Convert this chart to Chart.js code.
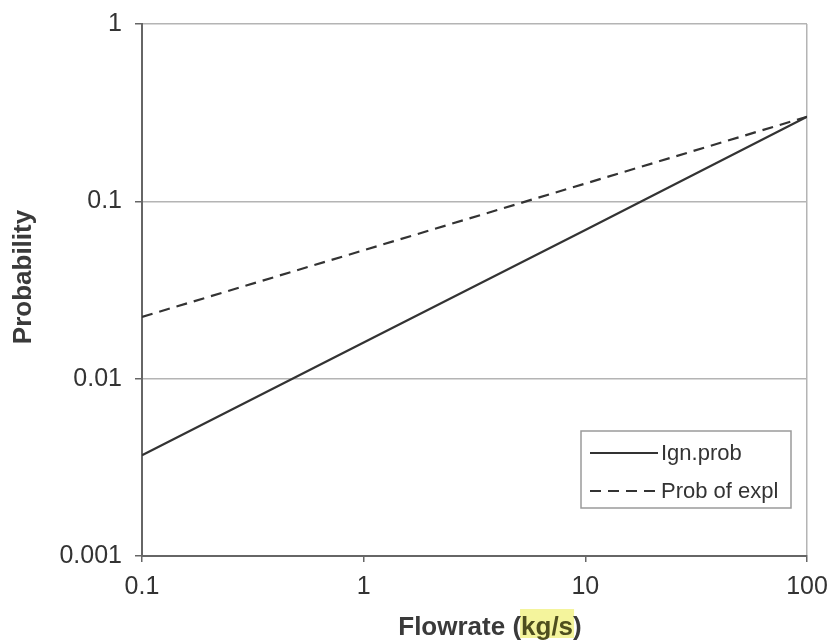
<!DOCTYPE html>
<html>
<head>
<meta charset="utf-8">
<script src="https://cdn.jsdelivr.net/npm/chart.js@4/dist/chart.umd.min.js"></script>
<style>
  html, body { margin: 0; padding: 0; background: #ffffff; }
  #wrap { width: 836px; height: 641px; }
</style>
</head>
<body>
<div id="wrap"><canvas id="c" width="836" height="641"></canvas></div>
<script>
// ---- data ----
const flowrates = [0.1, 1, 10, 100];
const ignProb   = [0.0037, 0.0160, 0.069, 0.30];
const explProb  = [0.0223, 0.0530, 0.126, 0.30];
const seriesNames = ['Ign.prob', 'Prob of expl'];
const xTickValues = [0.1, 1, 10, 100];
const yTickValues = [0.001, 0.01, 0.1, 1];
const xTitleParts = ['Flowrate (', 'kg/s', ')'];
const yTitle = 'Probability';

const FONT = '"Liberation Sans", Arial, Helvetica, sans-serif';

function pts(xs, ys) { return xs.map((x, i) => ({ x: x, y: ys[i] })); }

const titlesAndLegend = {
  id: 'titlesAndLegend',
  afterDraw(chart) {
    const ctx = chart.ctx;
    ctx.save();
    // legend box
    const lx = 581, ly = 431, lw = 210, lh = 77;
    ctx.fillStyle = '#ffffff';
    ctx.fillRect(lx, ly, lw, lh);
    ctx.strokeStyle = '#9a9a9a';
    ctx.lineWidth = 1.5;
    ctx.strokeRect(lx, ly, lw, lh);
    const rows = [453, 491];
    chart.data.datasets.forEach((ds, i) => {
      ctx.beginPath();
      ctx.setLineDash(ds.borderDash || []);
      ctx.strokeStyle = ds.borderColor;
      ctx.lineWidth = 2;
      ctx.moveTo(590, rows[i]);
      ctx.lineTo(658, rows[i]);
      ctx.stroke();
      ctx.setLineDash([]);
      ctx.fillStyle = '#333333';
      ctx.font = '22px ' + FONT;
      ctx.textAlign = 'left';
      ctx.textBaseline = 'middle';
      ctx.fillText(ds.label, 661, rows[i] + 1);
    });

    // x title with highlighted unit
    ctx.font = 'bold 26px ' + FONT;
    ctx.textBaseline = 'alphabetic';
    ctx.textAlign = 'left';
    const w0 = ctx.measureText(xTitleParts[0]).width;
    const w1 = ctx.measureText(xTitleParts[1]).width;
    const w2 = ctx.measureText(xTitleParts[2]).width;
    const total = w0 + w1 + w2;
    const cx = 490, base = 635;
    let x = cx - total / 2;
    ctx.fillStyle = '#f4f49c';
    ctx.fillRect(x + w0 - 1, 609, w1 + 2, 29);
    ctx.fillStyle = '#3a3a3a';
    ctx.fillText(xTitleParts[0], x, base);
    ctx.fillStyle = '#4e4e1e';
    ctx.fillText(xTitleParts[1], x + w0, base);
    ctx.fillStyle = '#3a3a3a';
    ctx.fillText(xTitleParts[2], x + w0 + w1, base);

    // y title
    ctx.translate(24, 277);
    ctx.rotate(-Math.PI / 2);
    ctx.textAlign = 'center';
    ctx.textBaseline = 'middle';
    ctx.fillStyle = '#3a3a3a';
    ctx.fillText(yTitle, 0, 0);
    ctx.restore();
  }
};

new Chart(document.getElementById('c'), {
  type: 'line',
  data: {
    datasets: [
      {
        label: seriesNames[0],
        data: pts(flowrates, ignProb),
        borderColor: '#333333',
        borderWidth: 2.2,
        pointRadius: 0,
        fill: false,
        tension: 0
      },
      {
        label: seriesNames[1],
        data: pts(flowrates, explProb),
        borderColor: '#333333',
        borderWidth: 2.2,
        borderDash: [11, 7],
        pointRadius: 0,
        fill: false,
        tension: 0
      }
    ]
  },
  options: {
    responsive: false,
    animation: false,
    devicePixelRatio: 1,
    layout: { padding: { left: 0, right: 29, top: 24, bottom: 0 } },
    plugins: { legend: { display: false }, tooltip: { enabled: false }, title: { display: false } },
    scales: {
      x: {
        type: 'logarithmic',
        min: 0.1, max: 100,
        afterBuildTicks(scale) { scale.ticks = xTickValues.map(v => ({ value: v })); },
        afterFit(scale) { scale.height = 85; scale.paddingRight = 0; scale.paddingLeft = 0; },
        grid: {
          drawOnChartArea: true,
          drawTicks: true,
          tickLength: 6,
          lineWidth: 1.5,
          color: (c) => (c.tick && c.tick.value === 100) ? '#b4b4b4' : 'rgba(0,0,0,0)',
          tickColor: '#666666'
        },
        border: { display: true, color: '#666666', width: 2 },
        ticks: {
          padding: 10,
          color: '#333333',
          font: { family: FONT, size: 25 },
          maxRotation: 0,
          autoSkip: false,
          callback: (v) => String(v)
        }
      },
      y: {
        type: 'logarithmic',
        min: 0.001, max: 1,
        afterBuildTicks(scale) { scale.ticks = yTickValues.map(v => ({ value: v })); },
        afterFit(scale) { scale.width = 142; scale.paddingTop = 0; scale.paddingBottom = 0; },
        grid: {
          drawOnChartArea: true,
          drawTicks: true,
          tickLength: 7,
          lineWidth: 1.5,
          color: (c) => (c.tick && c.tick.value === 0.001) ? 'rgba(0,0,0,0)' : '#b4b4b4',
          tickColor: '#666666'
        },
        border: { display: true, color: '#666666', width: 2 },
        ticks: {
          padding: 13,
          color: '#333333',
          font: { family: FONT, size: 25 },
          autoSkip: false,
          callback: (v) => String(v)
        }
      }
    }
  },
  plugins: [titlesAndLegend]
});
</script>
</body>
</html>
